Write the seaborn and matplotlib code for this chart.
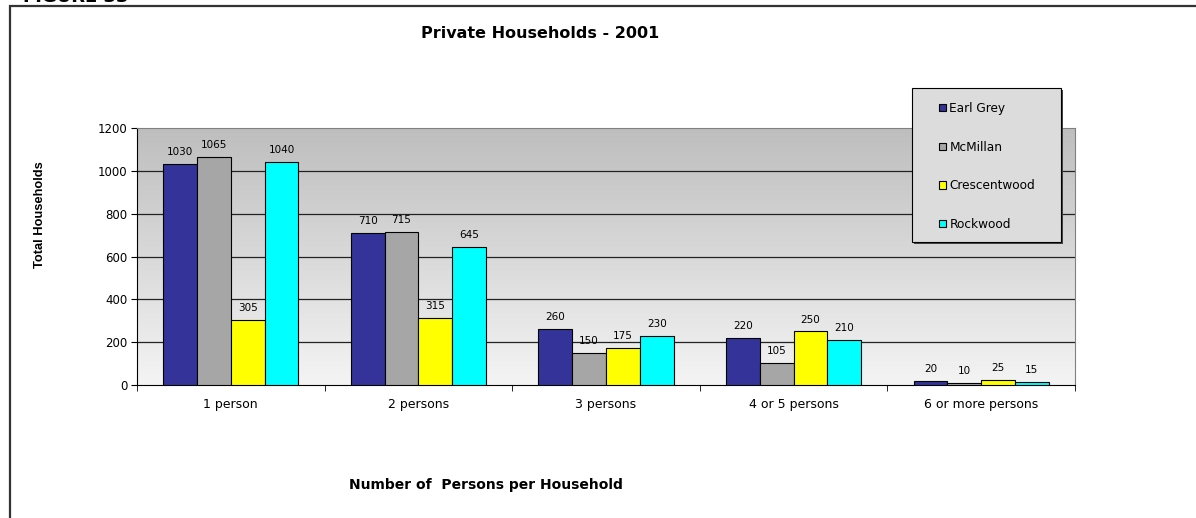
import matplotlib
matplotlib.use("Agg")
import matplotlib.pyplot as plt
import seaborn as sns
import numpy as np
import pandas as pd
from matplotlib.patches import Rectangle, Patch

# %%
categories = ["1 person", "2 persons", "3 persons", "4 or 5 persons", "6 or more persons"]
areas = ["Earl Grey", "McMillan", "Crescentwood", "Rockwood"]
earl_grey = [1030, 710, 260, 220, 20]
mcmillan = [1065, 715, 150, 105, 10]
crescentwood = [305, 315, 175, 250, 25]
rockwood = [1040, 645, 230, 210, 15]
colors = ["#333399", "#a6a6a6", "#ffff00", "#00ffff"]

df = pd.DataFrame({
    "size": categories * 4,
    "area": np.repeat(areas, len(categories)),
    "households": earl_grey + mcmillan + crescentwood + rockwood,
})

# %%
sns.set_style("white")
plt.rcParams["font.family"] = ["DejaVu Sans"]
plt.rcParams.update({"text.color": "black", "axes.labelcolor": "black",
                     "xtick.color": "black", "ytick.color": "black"})

W, H = 1196, 518
fig = plt.figure(figsize=(W / 100, H / 100), dpi=100)
ax = fig.add_axes([137 / W, 1 - 385 / H, (1075 - 137) / W, (385 - 128) / H])

# gradient plot background
grad = np.linspace(0, 1, 256).reshape(-1, 1)
ax.imshow(grad, extent=(-0.5, 4.5, 0, 1200), aspect="auto", origin="upper",
          cmap=matplotlib.colors.LinearSegmentedColormap.from_list("bg", ["#bebebe", "#f4f4f4"]),
          zorder=0)

sns.barplot(data=df, x="size", y="households", hue="area", palette=colors,
            width=0.72, gap=0, edgecolor="black", linewidth=0.8, saturation=1,
            legend=False, ax=ax, zorder=3)

for c in ax.containers:
    ax.bar_label(c, fontsize=7.5, padding=5, color="black")

ax.set_xlim(-0.5, 4.5)
ax.set_ylim(0, 1200)
ax.set_yticks(range(0, 1201, 200))
for y in range(200, 1200, 200):
    ax.axhline(y, color="#222222", linewidth=0.9, zorder=1)

for s in ["top", "right"]:
    ax.spines[s].set_color("#808080")
    ax.spines[s].set_linewidth(0.8)
ax.spines["left"].set_color("black")
ax.spines["bottom"].set_color("black")
ax.tick_params(axis="y", left=True, direction="out", length=4, labelsize=8.5, pad=3)
ax.tick_params(axis="x", bottom=False, labelsize=9, pad=6)
ax.set_xticks(np.arange(-0.5, 5, 1), minor=True)
ax.tick_params(axis="x", which="minor", bottom=True, direction="out", length=4)

ax.set_xlabel("")
ax.set_ylabel("")
fig.text(40 / W, 1 - 215 / H, "Total Households", rotation=90, ha="center", va="center",
         fontsize=9.3, fontweight="bold", family="Liberation Sans")
fig.text(486 / W, 1 - 485 / H, "Number of  Persons per Household", ha="center", va="center",
         fontsize=10, fontweight="bold")
fig.text(540 / W, 1 - 33 / H, "Private Households - 2001", ha="center", va="center",
         fontsize=11.5, fontweight="bold")
fig.text(23 / W, 1 - 1.5 / H, "FIGURE 33", ha="left", va="baseline",
         fontsize=13, fontweight="bold")

# outer frame
fig.patches.append(Rectangle((10 / W, -0.05), 1.2, 1 - 6 / H + 0.05,
                             transform=fig.transFigure, fill=False,
                             edgecolor="#333333", linewidth=1.6))

# legend box with shadow
fig.patches.append(Rectangle((914 / W, 1 - 244 / H), 149 / W, 154 / H,
                             transform=fig.transFigure, facecolor="#444444",
                             edgecolor="none", zorder=4))
fig.patches.append(Rectangle((912 / W, 1 - 242 / H), 149 / W, 154 / H,
                             transform=fig.transFigure, facecolor="#dcdcdc",
                             edgecolor="black", linewidth=0.8, zorder=4))

handles = [Patch(facecolor=c, edgecolor="black", linewidth=0.8) for c in colors]
leg = fig.legend(handles, areas, loc="upper left",
                 bbox_to_anchor=(939 / W, 1 - 102 / H), fontsize=8.7,
                 frameon=False, labelspacing=2.12, handlelength=0.55,
                 handleheight=0.55, handletextpad=0.3, borderpad=0,
                 borderaxespad=0)
leg.set_zorder(5)

fig.savefig("out.png", dpi=100)
